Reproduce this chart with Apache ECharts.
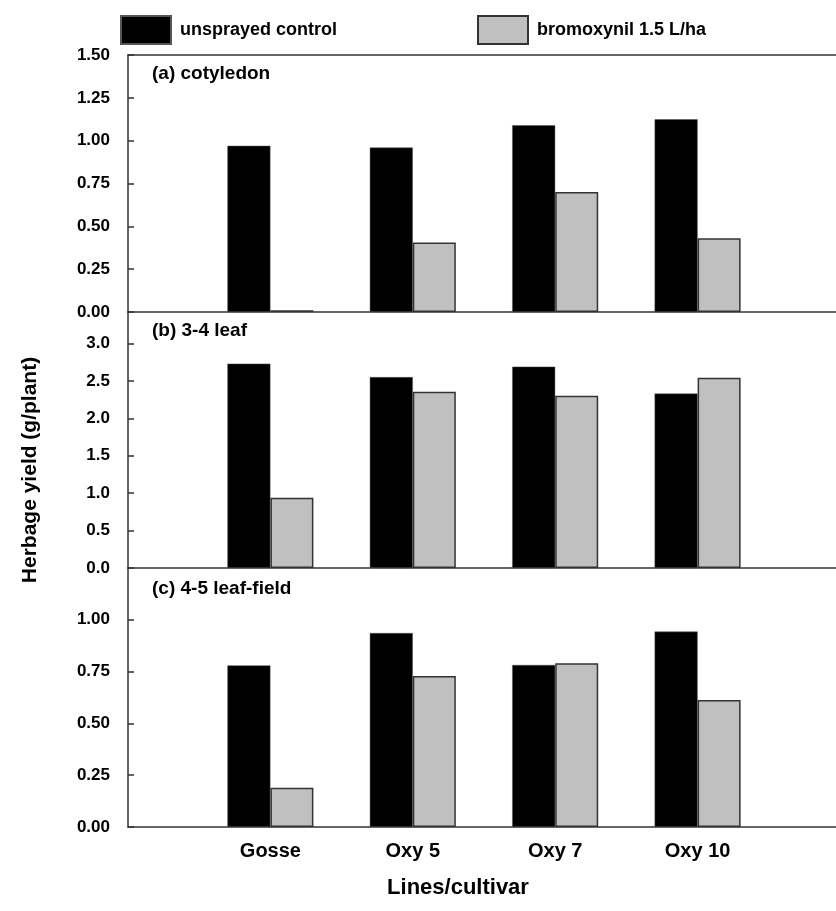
<!DOCTYPE html>
<html>
<head>
<meta charset="utf-8">
<script src="https://cdn.jsdelivr.net/npm/echarts@6/dist/echarts.min.js"></script>
<style>html,body{margin:0;padding:0;background:#fff;}#c{width:836px;height:911px;}</style>
</head>
<body>
<div id="c"></div>
<script>
const categories = ['', 'Gosse', 'Oxy 5', 'Oxy 7', 'Oxy 10', ''];
const seriesNames = ['unsprayed control', 'bromoxynil 1.5 L/ha'];
const panelTitles = ['(a) cotyledon', '(b) 3-4 leaf', '(c) 4-5 leaf-field'];
// values per panel (Gosse, Oxy 5, Oxy 7, Oxy 10)
const cotyledonControl = [0.97, 0.96, 1.09, 1.125];
const cotyledonBromo   = [0.01, 0.405, 0.70, 0.43];
const leaf34Control    = [2.73, 2.55, 2.69, 2.33];
const leaf34Bromo      = [0.94, 2.355, 2.30, 2.54];
const leaf45Control    = [0.78, 0.936, 0.782, 0.943];
const leaf45Bromo      = [0.19, 0.729, 0.79, 0.613];
const yTicksA = [0, 0.25, 0.5, 0.75, 1.0, 1.25, 1.5];
const yTicksB = [0, 0.5, 1.0, 1.5, 2.0, 2.5, 3.0];
const yTicksC = [0, 0.25, 0.5, 0.75, 1.0];

const FONT = 'Liberation Sans, Arial, sans-serif';
const pad = v => [null].concat(v).concat([null]);

const panels = [
  {top: 55, height: 257, max: 1.5, interval: 0.25, dec: 2, ctrl: cotyledonControl, bro: cotyledonBromo, ticks: yTicksA},
  {top: 312, height: 256, max: 3.42, interval: 0.5, dec: 1, ctrl: leaf34Control, bro: leaf34Bromo, ticks: yTicksB},
  {top: 568, height: 259, max: 1.25, interval: 0.25, dec: 2, ctrl: leaf45Control, bro: leaf45Bromo, ticks: yTicksC}
];

const grid = [], xAxis = [], yAxis = [], series = [];
panels.forEach((p, i) => {
  grid.push({left: 128, width: 712, top: p.top, height: p.height, show: false, containLabel: false, outerBoundsMode: 'none'});
  xAxis.push({
    type: 'category', gridIndex: i, data: categories, boundaryGap: false, position: 'bottom',
    axisLine: {lineStyle: {color: '#333', width: 1.5}},
    axisTick: {show: false},
    axisLabel: {show: i === 2, color: '#000', fontFamily: FONT, fontWeight: 'bold', fontSize: 20, margin: 14}
  });
  yAxis.push({
    type: 'value', gridIndex: i, min: 0, max: p.max, interval: p.interval,
    splitLine: {show: false},
    axisLine: {show: true, lineStyle: {color: '#333', width: 1.5}},
    axisTick: {show: true, inside: true, length: 6, lineStyle: {color: '#333', width: 1.5}},
    axisLabel: {
      color: '#000', fontFamily: FONT, fontWeight: 'bold', fontSize: 17, margin: 18,
      showMaxLabel: i === 0,
      formatter: v => (p.ticks.some(t => Math.abs(t - v) < 1e-9) ? v.toFixed(p.dec) : '')
    }
  });
  series.push({
    name: seriesNames[0], type: 'bar', xAxisIndex: i, yAxisIndex: i, data: pad(p.ctrl),
    barWidth: 43, barGap: '0%',
    itemStyle: {color: '#000', borderColor: '#555', borderWidth: 0.5}
  });
  series.push({
    name: seriesNames[1], type: 'bar', xAxisIndex: i, yAxisIndex: i, data: pad(p.bro),
    barWidth: 43, barGap: '0%',
    itemStyle: {color: '#c0c0c0', borderColor: '#333', borderWidth: 1.5}
  });
});
// top frame line of panel (a)
xAxis.push({
  type: 'category', gridIndex: 0, data: categories, boundaryGap: false, position: 'top',
  axisLine: {lineStyle: {color: '#333', width: 1.5}},
  axisTick: {show: false}, axisLabel: {show: false}
});

const titleTops = [75, 332, 590];
const graphic = panelTitles.map((t, i) => ({
  type: 'text', left: 152, top: titleTops[i] - 11,
  style: {text: t, font: 'bold 19px ' + FONT, fill: '#000'}
}));
graphic.push({
  type: 'text', x: 30, y: 470, rotation: Math.PI / 2,
  style: {text: 'Herbage yield (g/plant)', font: 'bold 21px ' + FONT, fill: '#000', align: 'center', verticalAlign: 'middle'}
});
graphic.push({
  type: 'text', x: 458, y: 888,
  style: {text: 'Lines/cultivar', font: 'bold 22px ' + FONT, fill: '#000', align: 'center', verticalAlign: 'middle'}
});

const legendText = {color: '#000', fontFamily: FONT, fontWeight: 'bold', fontSize: 18, padding: [0, 0, 0, 4]};
const option = {
  animation: false,
  backgroundColor: '#fff',
  legend: [
    {data: [seriesNames[0]], left: 115, top: 10, itemWidth: 50, itemHeight: 28, icon: 'rect', textStyle: legendText},
    {data: [seriesNames[1]], left: 472, top: 10, itemWidth: 50, itemHeight: 28, icon: 'rect', textStyle: legendText}
  ],
  grid, xAxis, yAxis, series, graphic
};
const chart = echarts.init(document.getElementById('c'), null, {renderer: 'canvas'});
chart.setOption(option);
</script>
</body>
</html>
